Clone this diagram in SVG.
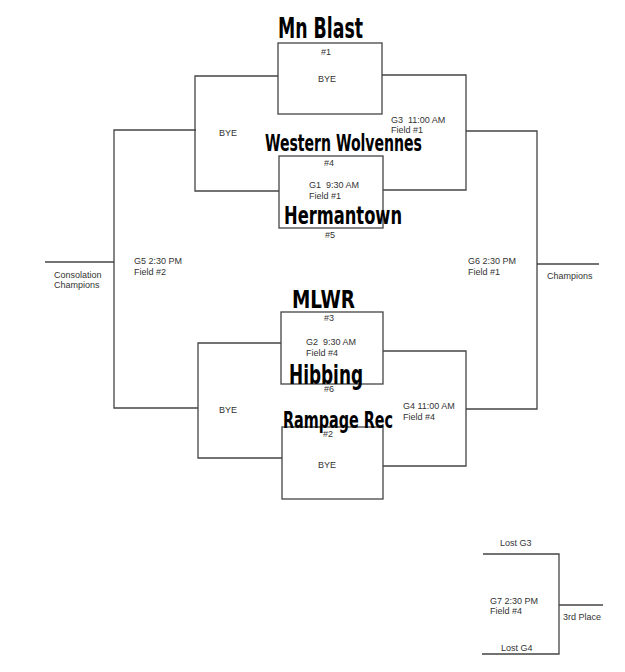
<svg xmlns="http://www.w3.org/2000/svg" width="625" height="672" viewBox="0 0 625 672">
<style>
.bx{fill:none;stroke:#444;stroke-width:1.3}
.ln{fill:none;stroke:#444;stroke-width:1.3}
.t{font-family:"Liberation Sans",Arial,sans-serif;font-size:9px;fill:#333;white-space:pre}
.c{text-anchor:middle}
.h{font-family:"Liberation Sans Narrow","DejaVu Sans Condensed","Liberation Sans",sans-serif;font-weight:bold;fill:#000}
</style>
<rect width="625" height="672" fill="#fff"/>
<g id="connectors">
<polyline class="ln" points="278,76 195,76 195,191 279,191"/>
<polyline class="ln" points="382,75 466,75 466,190 383,190"/>
<polyline class="ln" points="196,130 114,130 114,408 198,408"/>
<line class="ln" x1="45" y1="262" x2="114" y2="262"/>
<polyline class="ln" points="466,131 537,131 537,409 466,409"/>
<line class="ln" x1="537" y1="264" x2="599" y2="264"/>
<polyline class="ln" points="281,343 198,343 198,458 282,458"/>
<polyline class="ln" points="383,351 466,351 466,466 383,466"/>
<polyline class="ln" points="483,554 559,554 559,654 482,654"/>
<line class="ln" x1="559" y1="605" x2="603" y2="605"/>
</g>
<g id="seed1">
<rect class="bx" x="278" y="43" width="104" height="71"/>
<text class="t c" x="326" y="55">#1</text>
<text class="t c" x="327" y="82">BYE</text>
<text class="h" x="278" y="38" font-size="28" textLength="85" lengthAdjust="spacingAndGlyphs">Mn Blast</text>
</g>
<g id="g1">
<rect class="bx" x="279" y="156" width="104" height="72"/>
<text class="t c" x="329" y="166">#4</text>
<text class="t" x="309" y="188" xml:space="preserve">G1  9:30 AM</text>
<text class="t" x="309" y="199">Field #1</text>
<text class="t c" x="330" y="238">#5</text>
<text class="h" x="265" y="151" font-size="23" textLength="157" lengthAdjust="spacingAndGlyphs">Western Wolvennes</text>
<text class="h" x="284" y="224" font-size="25" textLength="118" lengthAdjust="spacingAndGlyphs">Hermantown</text>
</g>
<g id="bye-top">
<text class="t" x="219" y="136">BYE</text>
</g>
<g id="g3">
<text class="t" x="391" y="123" xml:space="preserve">G3  11:00 AM</text>
<text class="t" x="391" y="133">Field #1</text>
</g>
<g id="g2">
<rect class="bx" x="281" y="312" width="102" height="72"/>
<text class="t c" x="329" y="321">#3</text>
<text class="t" x="306" y="345" xml:space="preserve">G2  9:30 AM</text>
<text class="t" x="306" y="356">Field #4</text>
<text class="t c" x="329" y="392">#6</text>
<text class="h" x="292" y="308" font-size="24" textLength="63" lengthAdjust="spacingAndGlyphs">MLWR</text>
<text class="h" x="289" y="384" font-size="27" textLength="74" lengthAdjust="spacingAndGlyphs">Hibbing</text>
</g>
<g id="seed2">
<rect class="bx" x="282" y="427" width="101" height="72"/>
<text class="t c" x="328" y="437">#2</text>
<text class="t c" x="327" y="468">BYE</text>
<text class="h" x="283" y="428" font-size="23" textLength="110" lengthAdjust="spacingAndGlyphs">Rampage Rec</text>
</g>
<g id="bye-bottom">
<text class="t" x="219" y="413">BYE</text>
</g>
<g id="g4">
<text class="t" x="403" y="409">G4 11:00 AM</text>
<text class="t" x="403" y="420">Field #4</text>
</g>
<g id="g5">
<text class="t" x="134" y="264">G5 2:30 PM</text>
<text class="t" x="134" y="275">Field #2</text>
<text class="t" x="54" y="278">Consolation</text>
<text class="t" x="54" y="288">Champions</text>
</g>
<g id="g6">
<text class="t" x="468" y="264">G6 2:30 PM</text>
<text class="t" x="468" y="275">Field #1</text>
<text class="t" x="547" y="279">Champions</text>
</g>
<g id="g7">
<text class="t" x="500" y="546">Lost G3</text>
<text class="t" x="490" y="604">G7 2:30 PM</text>
<text class="t" x="490" y="614">Field #4</text>
<text class="t" x="563" y="620">3rd Place</text>
<text class="t" x="501" y="651">Lost G4</text>
</g>
</svg>
